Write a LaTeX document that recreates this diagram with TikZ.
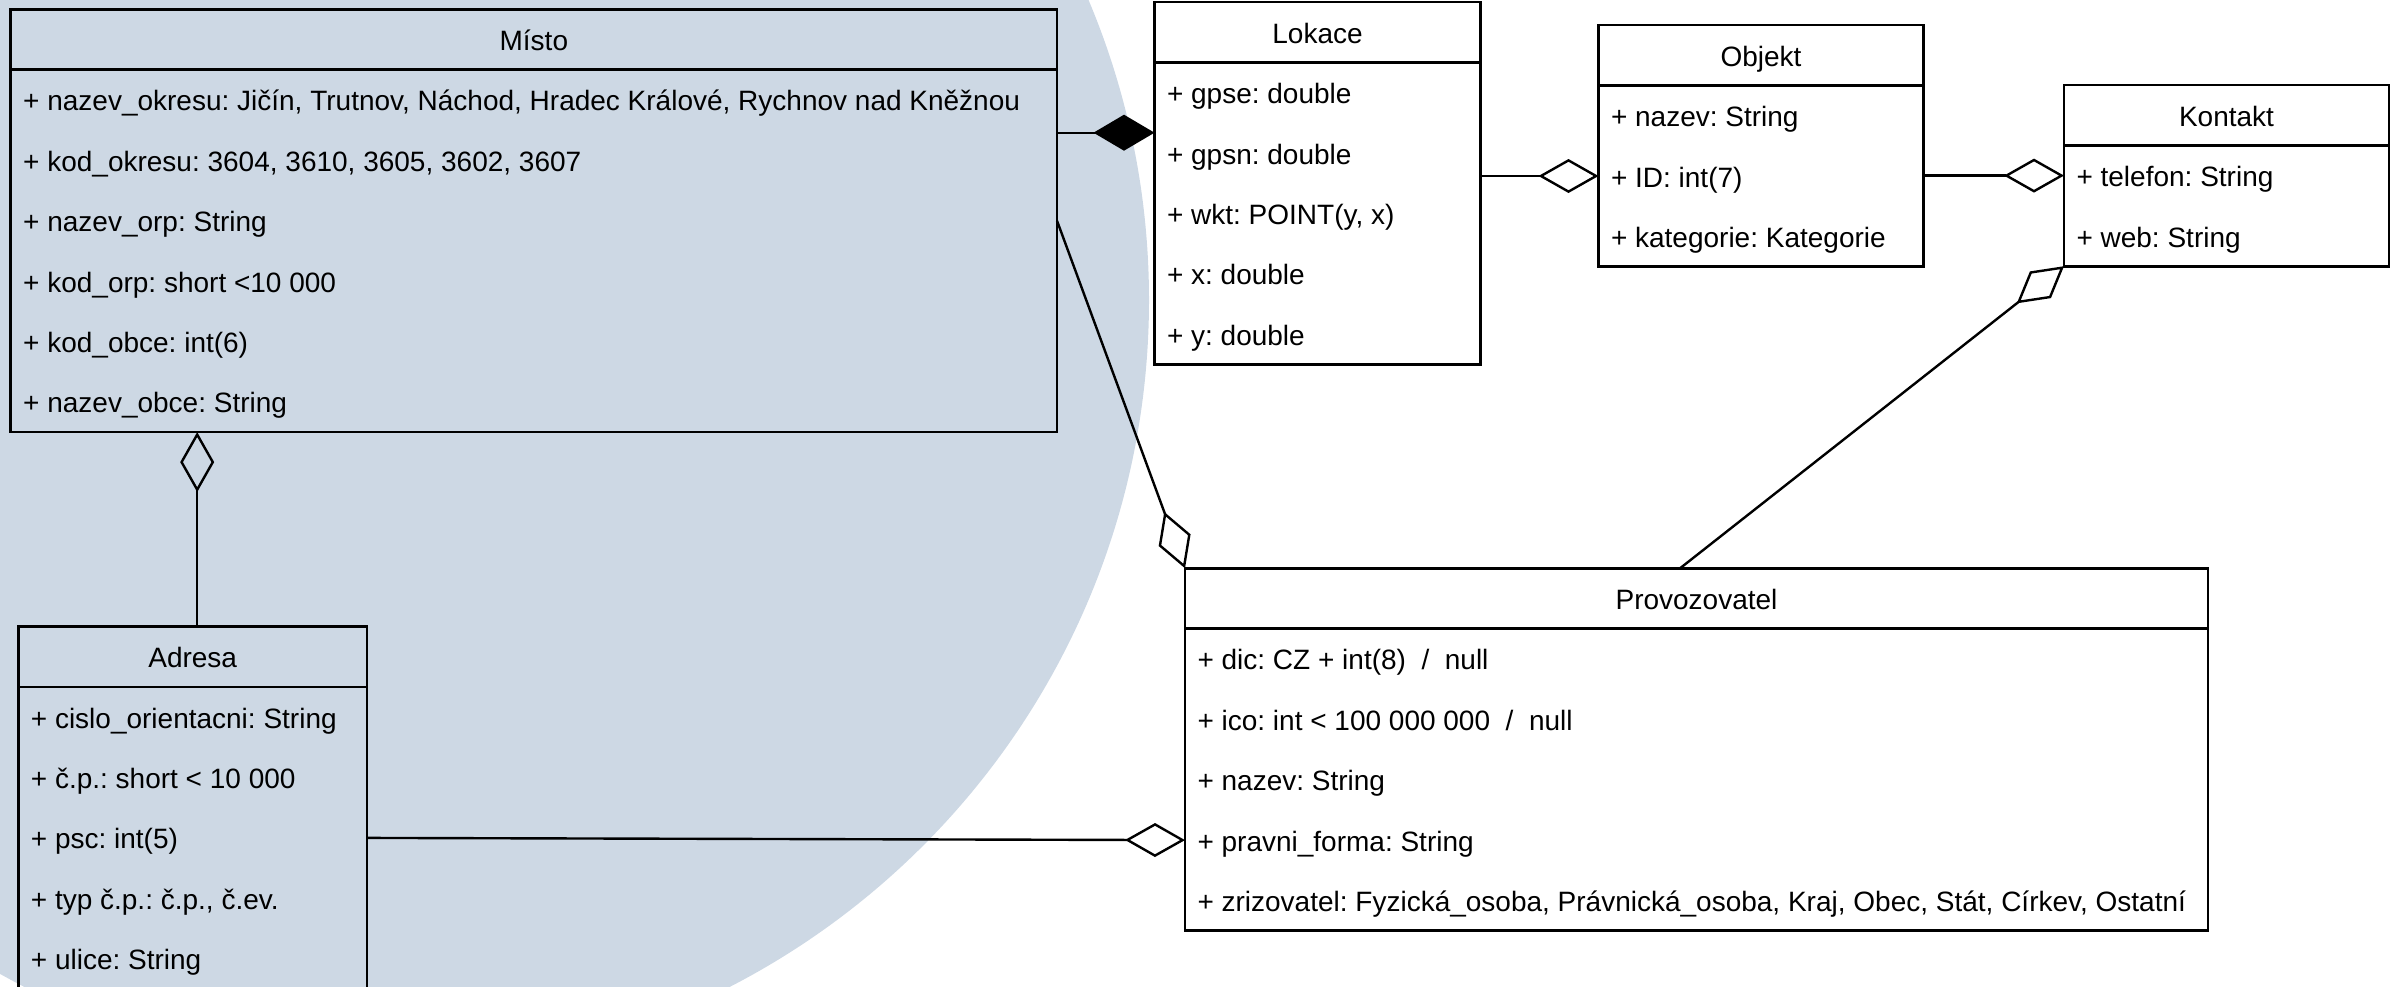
\documentclass[tikz,border=0pt]{standalone}
\usepackage{fontspec}
\setmainfont{Liberation Sans}
\usetikzlibrary{arrows.meta,calc}
\definecolor{circfill}{RGB}{205,216,228}
\newcommand\rowh{60.4}
\frenchspacing
\tikzset{
  umlbox/.style={draw=black, line width=2.6pt, inner sep=0pt, outer sep=0pt},
  umlline/.style={draw=black, line width=2.6pt},
  umltext/.style={font=\fontsize{28pt}{33pt}\selectfont, inner sep=0pt, outer sep=0pt},
  conn/.style={draw=black, line width=2.4pt},
  agg/.style={conn, -{Diamond[open, length=60pt, width=34pt, line join=miter]}},
  comp/.style={conn, -{Diamond[fill=black, length=61pt, width=36pt, line join=miter]}},
}
\newcommand\umlclass[7]{%
  \pgfmathsetmacro\boxh{(#5+1)*\rowh}%
  \node[umlbox, minimum width=#4pt, minimum height=\boxh pt, anchor=north west] (#1) at (#2,#3) {};
  \draw[umlline] ([yshift=-\rowh pt]#1.north west) -- ([yshift=-\rowh pt]#1.north east);
  \node[umltext, anchor=base] (#1-title) at ([yshift=-41.2pt]#1.north) {#6};
  \foreach \rtxt [count=\ri] in {#7} {%
    \pgfmathsetmacro\yy{\rowh*(\ri+0.5)}%
    \coordinate (#1-r\ri) at ([yshift=-\yy pt]#1.north west);
    \pgfmathsetmacro\yb{\yy+11}%
    \node[umltext, anchor=base west] (#1-\ri) at ([xshift=12.5pt, yshift=-\yb pt]#1.north west) {\rtxt};
  }%
}
\begin{document}
\frenchspacing
\begin{tikzpicture}[x=1pt, y=-1pt]
\useasboundingbox (0,0) rectangle (2394,986);
\clip (0,0) rectangle (2394,986);
\fill[circfill] (377,300) circle[radius=772pt];

\umlclass{misto}{10.7}{9.3}{1046.3}{6}{Místo}{{+ nazev\_okresu: Jičín, Trutnov, Náchod, Hradec Králové, Rychnov nad Kněžnou},{+ kod\_okresu: 3604, 3610, 3605, 3602, 3607},{+ nazev\_orp: String},{+ kod\_orp: short <10 000},{+ kod\_obce: int(6)},{+ nazev\_obce: String}}

\umlclass{adresa}{18.4}{626.5}{348.6}{5}{Adresa}{{+ cislo\_orientacni: String},{+ č.p.: short < 10 000},{+ psc: int(5)},{+ typ č.p.: č.p., č.ev.},{+ ulice: String}}

\umlclass{lokace}{1154.5}{2}{326}{5}{Lokace}{{+ gpse: double},{+ gpsn: double},{+ wkt: POINT(y, x)},{+ x: double},{+ y: double}}

\umlclass{objekt}{1598.5}{25}{325.1}{3}{Objekt}{{+ nazev: String},{+ ID: int(7)},{+ kategorie: Kategorie}}

\umlclass{kontakt}{2064}{85}{325}{2}{Kontakt}{{+ telefon: String},{+ web: String}}

\umlclass{provoz}{1185}{568.3}{1023}{5}{Provozovatel}{{+ dic: CZ + int(8)\ \ /\ \ null},{+ ico: int < 100 000 000\ \ /\ \ null},{+ nazev: String},{+ pravni\_forma: String},{+ zrizovatel: Fyzická\_osoba, Právnická\_osoba, Kraj, Obec, Stát, Církev, Ostatní}}

% connectors
\draw[comp] ([yshift=-123.4pt]misto.north east) coordinate (c1) -- (c1 -| lokace.west);
\draw[agg] (misto.east |- misto-r3) -- (provoz.north west);
\draw[agg] ([xshift=4.5pt]adresa.north) coordinate (c3) -- (c3 |- misto.south);
\draw[agg] (adresa.east |- adresa-r3) -- (provoz.west |- provoz-r4);
\draw[agg] (lokace.east |- objekt-r2) -- (objekt.west |- objekt-r2);
\draw[agg] (objekt.east |- kontakt-r1) -- (kontakt.west |- kontakt-r1);
\draw[agg] ([xshift=-16.5pt]provoz.north) -- (kontakt.south west);
\end{tikzpicture}
\end{document}
